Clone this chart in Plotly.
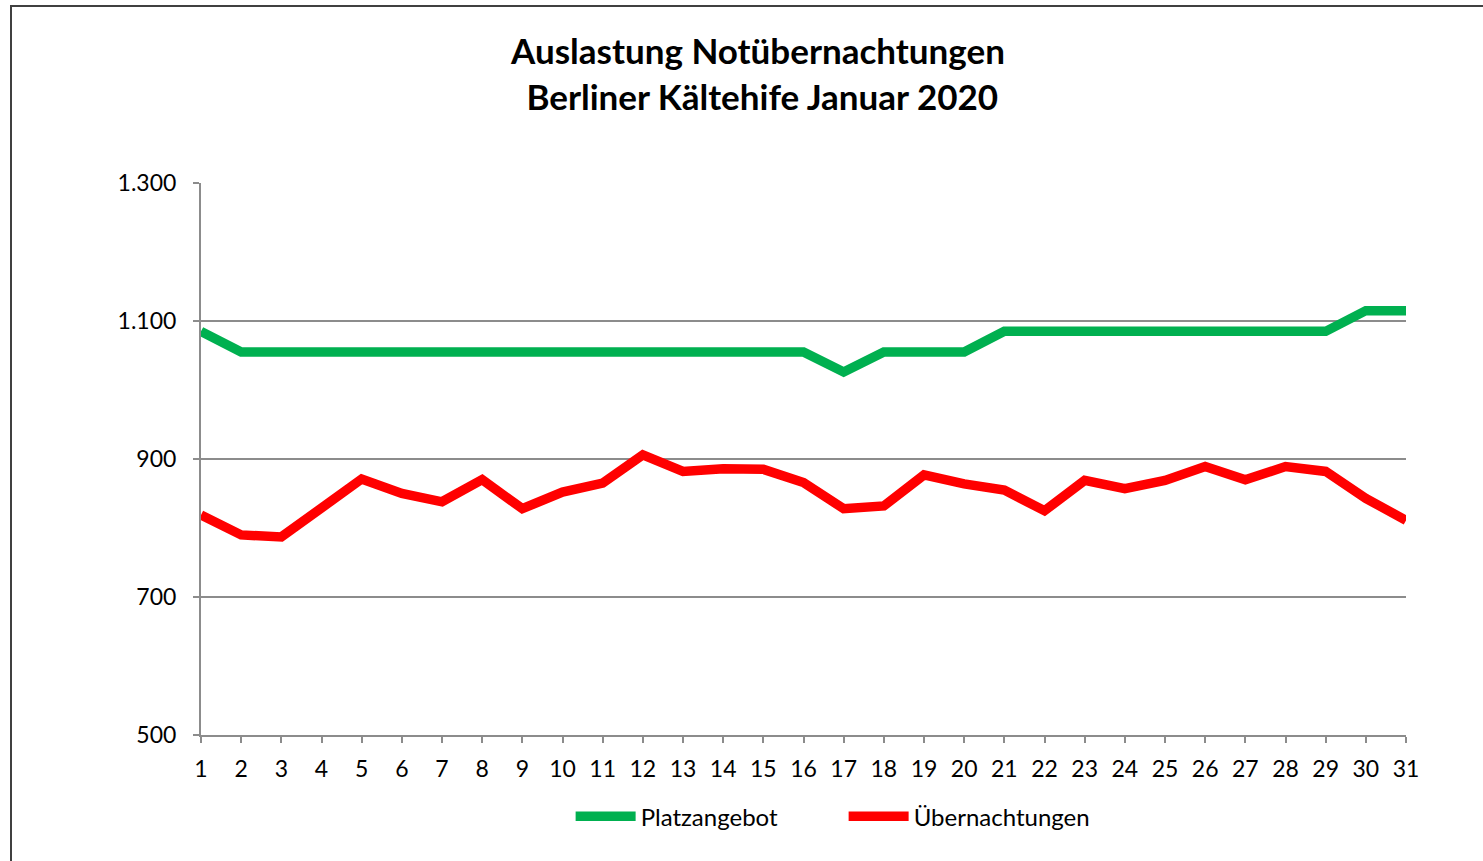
import plotly.graph_objects as go

days = list(range(1, 32))
platzangebot = [1085] + [1055] * 15 + [1026] + [1055] * 3 + [1085] * 9 + [1115, 1115]
uebernachtungen = [819, 790, 787, 831, 871, 850, 838, 870, 828, 852, 865, 906, 882, 886, 885,
                   866, 828, 832, 877, 864, 855, 825, 869, 857, 869, 889, 870, 889, 882, 843, 811]
y_ticks = [500, 700, 900, 1100, 1300]
y_labels = ["500", "700", "900", "1.100", "1.300"]

FONT = "Lato"
GRID = "#8c8c8c"
W, H = 1483, 861

fig = go.Figure()
fig.add_trace(go.Scatter(x=days, y=platzangebot, mode="lines", name="Platzangebot",
                         line=dict(color="#00B050", width=9.5)))
fig.add_trace(go.Scatter(x=days, y=uebernachtungen, mode="lines", name="Übernachtungen",
                         line=dict(color="#FF0000", width=9.5)))

fig.update_layout(
    width=W, height=H,
    margin=dict(l=201, r=77, t=183, b=126),
    paper_bgcolor="white", plot_bgcolor="white",
    font=dict(family=FONT, color="black", size=23),
    title=dict(text="<b>Auslastung Notübernachtungen<br> Berliner Kältehife Januar 2020</b>",
               x=758 / W, xanchor="center", xref="container",
               y=1 - 64 / H, yanchor="middle", yref="container",
               font=dict(family=FONT, size=35, color="black")),
    showlegend=True,
    legend=dict(orientation="h", x=0.5333, xanchor="center", y=-0.107, yanchor="top",
                font=dict(size=24, family=FONT), itemwidth=60, entrywidth=198,
                bgcolor="rgba(0,0,0,0)"),
    xaxis=dict(range=[1, 31], tickmode="array", tickvals=days, ticktext=[str(d) for d in days],
               showgrid=False, showline=True, linecolor=GRID, linewidth=2,
               ticks="outside", ticklen=6, tickcolor=GRID, tickwidth=2, ticklabelstandoff=6,
               tickfont=dict(size=23, family=FONT), zeroline=False, fixedrange=True),
    yaxis=dict(range=[500, 1300], tickmode="array", tickvals=y_ticks, ticktext=y_labels,
               showgrid=True, gridcolor=GRID, gridwidth=2,
               showline=True, linecolor=GRID, linewidth=2,
               ticks="outside", ticklen=6, tickcolor=GRID, tickwidth=2, ticklabelstandoff=12,
               tickfont=dict(size=23, family=FONT), zeroline=False, fixedrange=True),
    shapes=[dict(type="rect", xref="paper", yref="paper",
                 x0=(11 - 201) / 1205, x1=(1495 - 201) / 1205,
                 y0=(735 - 875) / 552, y1=(735 - 6) / 552,
                 line=dict(color="#404040", width=2), layer="below")],
)

fig.write_html("out.html", config={"displayModeBar": False},
               post_script="document.body.style.margin='0px';document.body.style.overflow='hidden';")
